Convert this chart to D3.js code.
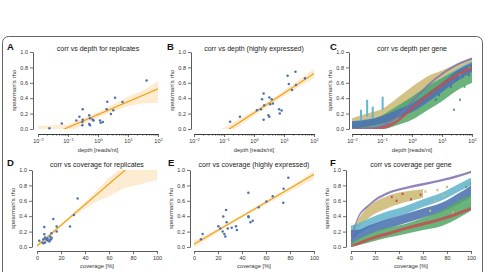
<!DOCTYPE html>
<html>
<head>
<meta charset="utf-8">
<script src="https://cdn.jsdelivr.net/npm/d3@7"></script>
<style>
  body { margin: 0; background: #fff; }
  svg { display: block; font-family: "Liberation Sans", Arial, sans-serif; }
</style>
</head>
<body>
<svg id="chart" width="485" height="272"></svg>
<script>
// ---- replicate / highly expressed scatter data ----
const replDepth = [0.024, 0.062, 0.19, 0.24, 0.31, 0.31, 0.30, 0.30, 0.51, 0.54, 0.51, 0.54, 0.66, 0.71, 1.17, 1.23, 1.45, 2.04, 1.95, 2.69, 3.24, 3.72, 6.6, 41.7];
const replDepthRho = [0.01, 0.07, 0.11, 0.16, 0.255, 0.12, 0.09, 0.05, 0.18, 0.14, 0.065, 0.05, 0.125, 0.11, 0.11, 0.08, 0.09, 0.355, 0.255, 0.195, 0.245, 0.405, 0.35, 0.63];

const highDepth = [0.16, 0.34, 1.26, 1.7, 1.86, 2.09, 2.19, 2.09, 3.24, 3.89, 3.47, 4.27, 3.02, 3.24, 6.9, 8.3, 7.2, 13.2, 14.5, 18.6, 24, 25.1, 50];
const highDepthRho = [0.095, 0.16, 0.245, 0.255, 0.385, 0.46, 0.31, 0.12, 0.41, 0.385, 0.32, 0.33, 0.18, 0.16, 0.255, 0.24, 0.2, 0.69, 0.585, 0.505, 0.745, 0.57, 0.66];

const replCov = [1.9, 4.7, 5.3, 5.5, 6.1, 6.1, 6.7, 6.7, 7.5, 8.0, 8.9, 9.0, 10.3, 10.8, 11.0, 11.7, 12.0, 12.2, 13.6, 16.4, 16.4, 27.5, 30.8, 33.9];
const replCovRho = [0.08, 0.055, 0.1, 0.05, 0.26, 0.165, 0.125, 0.06, 0.11, 0.09, 0.11, 0.085, 0.07, 0.135, 0.095, 0.1, 0.18, 0.12, 0.365, 0.2, 0.265, 0.265, 0.415, 0.63];

const highCov = [5.8, 7.2, 20.3, 21.9, 23.9, 24.4, 25.3, 26.1, 26.7, 27.2, 28.1, 31.4, 35, 35.8, 45.3, 45.3, 45.5, 47, 48.9, 53.9, 60.3, 65.6, 74.4, 74.7, 78.6];
const highCovRho = [0.1, 0.17, 0.27, 0.24, 0.2, 0.395, 0.17, 0.135, 0.48, 0.32, 0.24, 0.25, 0.27, 0.22, 0.705, 0.4, 0.385, 0.32, 0.34, 0.515, 0.59, 0.66, 0.575, 0.755, 0.9];

// ---- regression lines and confidence bands ----
const fitADepth = [0.01, 100], fitARho = [-0.147, 0.521];
const ciADepth = [0.01, 0.1, 1, 10, 31.6, 100];
const ciALow = [-0.3, -0.05, 0.15, 0.3, 0.33, 0.34];
const ciAHigh = [0.04, 0.06, 0.22, 0.42, 0.5, 0.62];

const fitBDepth = [0.01, 100], fitBRho = [-0.3, 0.72];
const ciBDepth = [0.01, 0.1, 1, 10, 100];
const ciBLow = [-0.45, -0.1, 0.17, 0.43, 0.66];
const ciBHigh = [-0.15, 0.02, 0.24, 0.5, 0.78];

const fitDCov = [0, 100], fitDRho = [0.015, 1.355];
const ciDCov = [0, 10, 20, 30, 40, 50, 60, 72, 100];
const ciDLow = [-0.01, 0.11, 0.26, 0.39, 0.5, 0.59, 0.66, 0.76, 0.87];
const ciDHigh = [0.04, 0.17, 0.3, 0.44, 0.58, 0.74, 0.9, 1.05, 1.4];

const fitECov = [0, 100], fitERho = [0.035, 0.945];
const ciECov = [0, 20, 40, 60, 80, 100];
const ciELow = [-0.01, 0.19, 0.38, 0.55, 0.72, 0.88];
const ciEHigh = [0.08, 0.24, 0.42, 0.6, 0.78, 0.99];

// ---- per gene clouds (C: vs depth) ----
const geneDepth = [0.01, 0.0316, 0.1, 0.316, 1, 3.16, 10, 31.6, 100];
const cGoldLo = [0.0, 0.04, 0.1, 0.22, 0.36, 0.5, 0.6, 0.7, 0.8];
const cGoldHi = [0.14, 0.2, 0.26, 0.4, 0.55, 0.68, 0.76, 0.84, 0.92];
const cCyanLo = [0.02, 0.05, 0.08, 0.15, 0.28, 0.42, 0.55, 0.68, 0.8];
const cCyanHi = [0.1, 0.13, 0.16, 0.26, 0.42, 0.55, 0.67, 0.78, 0.88];
const cGreenLo = [0.0, 0.0, 0.0, 0.05, 0.12, 0.24, 0.36, 0.5, 0.6];
const cGreenHi = [0.06, 0.1, 0.18, 0.3, 0.42, 0.55, 0.66, 0.76, 0.82];
const cBlueLo = [0.0, 0.03, 0.07, 0.14, 0.22, 0.34, 0.48, 0.62, 0.74];
const cBlueHi = [0.1, 0.12, 0.17, 0.25, 0.33, 0.46, 0.6, 0.76, 0.86];
const cRedLo = [0.0, 0.0, 0.0, 0.08, 0.25, 0.41, 0.56, 0.68, 0.78];
const cRedHi = [0.01, 0.02, 0.04, 0.12, 0.29, 0.45, 0.6, 0.72, 0.82];
const cPurpleLo = [0.0, 0.0, 0.03, 0.14, 0.34, 0.54, 0.7, 0.82, 0.9];
const cPurpleHi = [0.01, 0.02, 0.06, 0.17, 0.37, 0.57, 0.73, 0.85, 0.93];
const cCyanSpikeDepth = [0.02, 0.032, 0.049, 0.105];
const cCyanSpikeLo = [0.12, 0.16, 0.14, 0.25];
const cCyanSpikeHi = [0.25, 0.38, 0.29, 0.42];
const cBlueDotDepth = [6.3, 7.9, 20, 31.6, 50, 79];
const cBlueDotRho = [0.38, 0.44, 0.55, 0.64, 0.68, 0.7];
const cGreenDotDepth = [25, 40, 56, 79, 40];
const cGreenDotRho = [0.25, 0.38, 0.55, 0.8, 0.7];

// ---- per gene clouds (F: vs coverage) ----
const geneCov = [0, 5, 15, 30, 45, 60, 75, 90, 100];
const fPurpleLo = [0.02, 0.33, 0.53, 0.68, 0.75, 0.8, 0.85, 0.91, 0.96];
const fPurpleHi = [0.13, 0.37, 0.56, 0.71, 0.78, 0.83, 0.88, 0.94, 0.99];
const fGoldCov = [0, 5, 15, 30, 45, 60];
const fGoldLo = [0.05, 0.22, 0.38, 0.5, 0.58, 0.64];
const fGoldHi = [0.2, 0.34, 0.53, 0.66, 0.72, 0.75];
const fCyanLo = [0.08, 0.15, 0.25, 0.35, 0.43, 0.52, 0.6, 0.72, 0.8];
const fCyanHi = [0.28, 0.3, 0.37, 0.46, 0.53, 0.62, 0.7, 0.82, 0.9];
const fBlueLo = [0.02, 0.08, 0.16, 0.24, 0.31, 0.38, 0.45, 0.56, 0.65];
const fBlueHi = [0.22, 0.22, 0.28, 0.36, 0.43, 0.5, 0.57, 0.7, 0.8];
const fGreenLo = [0.0, 0.02, 0.06, 0.12, 0.17, 0.22, 0.27, 0.38, 0.47];
const fGreenHi = [0.06, 0.1, 0.17, 0.25, 0.3, 0.38, 0.47, 0.6, 0.68];
const fRedLo = [0.0, 0.02, 0.08, 0.15, 0.22, 0.28, 0.34, 0.42, 0.48];
const fRedHi = [0.02, 0.06, 0.12, 0.19, 0.26, 0.32, 0.38, 0.46, 0.52];
const fRedDotCov = [34, 38, 43, 50, 58];
const fRedDotRho = [0.65, 0.6, 0.69, 0.62, 0.68];
const fGoldDotCov = [62, 66, 70, 77, 85, 72, 80];
const fGoldDotRho = [0.72, 0.47, 0.6, 0.67, 0.45, 0.74, 0.78];
const fGreenDotCov = [85, 90, 96, 100];
const fGreenDotRho = [0.55, 0.6, 0.78, 0.82];

// ---- ticks ----
const rhoTicks = [0, 0.2, 0.4, 0.6, 0.8, 1.0];
const depthMajor = [0.01, 0.1, 1, 10, 100];
const depthExp = ["\u22122", "\u22121", "0", "1", "2"];
const covTicks = [0, 20, 40, 60, 80, 100];

const C = { blue: "#4c72b0", green: "#55a868", red: "#c44e52", purple: "#8172b2", gold: "#ccb974", cyan: "#64b5cd" };
const fitColor = "#f2a31b";
const bandColor = "#fbd49a";
const ink = "#333";

const svg = d3.select("#chart");

// outer frame
svg.append("rect")
    .attr("x", 2.5).attr("y", 36.5)
    .attr("width", 480).attr("height", 260)
    .attr("rx", 6)
    .attr("fill", "none")
    .attr("stroke", "#666")
    .attr("stroke-width", 1);

const rows = [
    { top: 52, bottom: 129, axisY: 134, titleY: 50.5, letterY: 50 },
    { top: 170, bottom: 247, axisY: 251, titleY: 167, letterY: 166 },
];

function makePanel(p) {
    const row = rows[p.row];
    const x = p.log
        ? d3.scaleLog().domain([0.01, 100]).range([p.x0, p.x0 + 120])
        : d3.scaleLinear().domain([0, 100]).range([p.x0, p.x0 + 120]);
    const y = d3.scaleLinear().domain([0, 1]).range([row.bottom, row.top]);
    const g = svg.append("g");

    const clipId = "clip" + p.letter;
    svg.append("clipPath").attr("id", clipId)
        .append("rect")
        .attr("x", p.x0).attr("y", row.top)
        .attr("width", 120).attr("height", row.bottom - row.top);
    const plot = g.append("g").attr("clip-path", `url(#${clipId})`);

    // Y axis
    const ya = g.append("g")
        .attr("transform", `translate(${p.yAxisX},0)`)
        .call(d3.axisLeft(y).tickValues(rhoTicks).tickFormat(d3.format(".1f")).tickSize(3).tickSizeOuter(0).tickPadding(2));
    styleAxis(ya);

    // X axis
    if (p.log) {
        const minors = [];
        depthMajor.slice(0, -1).forEach(d => { for (let k = 2; k < 10; k++) minors.push(d * k); });
        const xm = g.append("g")
            .attr("transform", `translate(0,${row.axisY})`)
            .call(d3.axisBottom(x).tickValues(minors).tickFormat("").tickSize(1.6).tickSizeOuter(0));
        styleAxis(xm);
        const xa = g.append("g")
            .attr("transform", `translate(0,${row.axisY})`)
            .call(d3.axisBottom(x).tickValues(depthMajor).tickSize(3).tickSizeOuter(0).tickPadding(2));
        styleAxis(xa);
        xa.selectAll(".tick text").each(function (d, i) {
            const t = d3.select(this).text("10");
            t.append("tspan").attr("dy", "-2.2").style("font-size", "4px").text(depthExp[i]);
        });
    } else {
        const xa = g.append("g")
            .attr("transform", `translate(0,${row.axisY})`)
            .call(d3.axisBottom(x).tickValues(covTicks).tickFormat(d3.format("d")).tickSize(3).tickSizeOuter(0).tickPadding(2));
        styleAxis(xa);
    }

    // labels
    g.append("text")
        .attr("x", p.x0 + 60).attr("y", row.titleY)
        .attr("text-anchor", "middle")
        .style("font-size", "7px").attr("fill", "#222")
        .text(p.title);
    g.append("text")
        .attr("x", p.x0 + 60).attr("y", row.axisY + (p.log ? 18 : 17))
        .attr("text-anchor", "middle")
        .style("font-size", "5.8px").attr("fill", ink)
        .text(p.log ? "depth [reads/nt]" : "coverage [%]");
    g.append("text")
        .attr("transform", `translate(${p.yAxisX - 17},${(row.top + row.bottom) / 2}) rotate(-90)`)
        .attr("text-anchor", "middle")
        .style("font-size", "6px").attr("fill", ink)
        .text("spearman's rho");
    g.append("text")
        .attr("x", p.letterX).attr("y", row.letterY)
        .style("font-size", "9.5px").style("font-weight", "bold").attr("fill", "#111")
        .text(p.letter);

    return { g, plot, x, y };
}

function styleAxis(sel) {
    sel.attr("font-size", 5.5).attr("font-family", null);
    sel.select(".domain").attr("stroke", ink).attr("stroke-width", 0.8);
    sel.selectAll(".tick line").attr("stroke", ink).attr("stroke-width", 0.7);
    sel.selectAll(".tick text").attr("fill", ink);
}

function drawRegression(pn, xs, ys, fitX, fitY, ciX, ciLo, ciHi) {
    const band = d3.area()
        .x(d => pn.x(d[0]))
        .y0(d => pn.y(d[1]))
        .y1(d => pn.y(d[2]));
    pn.plot.append("path")
        .datum(ciX.map((v, i) => [v, ciLo[i], ciHi[i]]))
        .attr("d", band)
        .attr("fill", bandColor)
        .attr("fill-opacity", 0.45);
    pn.plot.append("path")
        .datum(fitX.map((v, i) => [v, fitY[i]]))
        .attr("d", d3.line().x(d => pn.x(d[0])).y(d => pn.y(d[1])))
        .attr("fill", "none")
        .attr("stroke", fitColor)
        .attr("stroke-width", 1.3);
    pn.g.selectAll(".pt")
        .data(xs.map((v, i) => [v, ys[i]]))
        .enter()
        .append("circle")
        .attr("cx", d => pn.x(d[0]))
        .attr("cy", d => pn.y(d[1]))
        .attr("r", 1.25)
        .attr("fill", C.blue);
}

function drawCloud(pn, xs, lo, hi, color) {
    const band = d3.area()
        .curve(d3.curveMonotoneX)
        .x(d => pn.x(d[0]))
        .y0(d => pn.y(d[1]))
        .y1(d => pn.y(d[2]));
    pn.plot.append("path")
        .datum(xs.map((v, i) => [v, lo[i], hi[i]]))
        .attr("d", band)
        .attr("fill", color)
        .attr("fill-opacity", 0.88);
}

function drawDots(pn, xs, ys, color) {
    pn.plot.selectAll(null)
        .data(xs.map((v, i) => [v, ys[i]]))
        .enter()
        .append("rect")
        .attr("x", d => pn.x(d[0]) - 0.9)
        .attr("y", d => pn.y(d[1]) - 1.2)
        .attr("width", 1.8).attr("height", 2.4)
        .attr("fill", color);
}

// A
const pA = makePanel({ letter: "A", row: 0, x0: 38, yAxisX: 33, letterX: 7, log: true, title: "corr vs depth for replicates" });
drawRegression(pA, replDepth, replDepthRho, fitADepth, fitARho, ciADepth, ciALow, ciAHigh);

// B
const pB = makePanel({ letter: "B", row: 0, x0: 194, yAxisX: 191, letterX: 167, log: true, title: "corr vs depth (highly expressed)" });
drawRegression(pB, highDepth, highDepthRho, fitBDepth, fitBRho, ciBDepth, ciBLow, ciBHigh);

// C
const pC = makePanel({ letter: "C", row: 0, x0: 352, yAxisX: 349, letterX: 330, log: true, title: "corr vs depth per gene" });
drawCloud(pC, geneDepth, cGoldLo, cGoldHi, C.gold);
drawCloud(pC, geneDepth, cCyanLo, cCyanHi, C.cyan);
drawCloud(pC, geneDepth, cGreenLo, cGreenHi, C.green);
drawCloud(pC, geneDepth, cBlueLo, cBlueHi, C.blue);
drawCloud(pC, geneDepth, cRedLo, cRedHi, C.red);
drawCloud(pC, geneDepth, cPurpleLo, cPurpleHi, C.purple);
pC.plot.selectAll(null)
    .data(cCyanSpikeDepth.map((v, i) => [v, cCyanSpikeLo[i], cCyanSpikeHi[i]]))
    .enter()
    .append("rect")
    .attr("x", d => pC.x(d[0]) - 1)
    .attr("y", d => pC.y(d[2]))
    .attr("width", 2)
    .attr("height", d => pC.y(d[1]) - pC.y(d[2]))
    .attr("fill", C.cyan);
drawDots(pC, cBlueDotDepth, cBlueDotRho, C.blue);
drawDots(pC, cGreenDotDepth, cGreenDotRho, C.green);

// D
const pD = makePanel({ letter: "D", row: 1, x0: 37, yAxisX: 32, letterX: 7, log: false, title: "corr vs coverage for replicates" });
drawRegression(pD, replCov, replCovRho, fitDCov, fitDRho, ciDCov, ciDLow, ciDHigh);

// E
const pE = makePanel({ letter: "E", row: 1, x0: 194, yAxisX: 190, letterX: 168, log: false, title: "corr vs coverage (highly expressed)" });
drawRegression(pE, highCov, highCovRho, fitECov, fitERho, ciECov, ciELow, ciEHigh);

// F
const pF = makePanel({ letter: "F", row: 1, x0: 351, yAxisX: 346, letterX: 330, log: false, title: "corr vs coverage per gene" });
drawCloud(pF, fGoldCov, fGoldLo, fGoldHi, C.gold);
drawCloud(pF, geneCov, fCyanLo, fCyanHi, C.cyan);
drawCloud(pF, geneCov, fBlueLo, fBlueHi, C.blue);
drawCloud(pF, geneCov, fGreenLo, fGreenHi, C.green);
drawCloud(pF, geneCov, fRedLo, fRedHi, C.red);
drawCloud(pF, geneCov, fPurpleLo, fPurpleHi, C.purple);
drawDots(pF, fRedDotCov, fRedDotRho, C.red);
drawDots(pF, fGoldDotCov, fGoldDotRho, C.gold);
drawDots(pF, fGreenDotCov, fGreenDotRho, C.green);
</script>
</body>
</html>
